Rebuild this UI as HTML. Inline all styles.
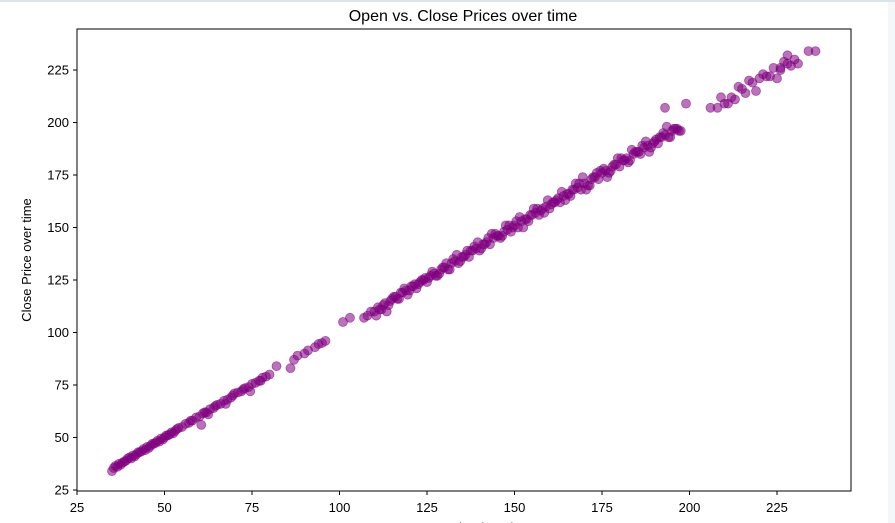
<!DOCTYPE html>
<html><head><meta charset="utf-8"><style>
html,body{margin:0;padding:0;background:#fff;width:895px;height:523px;overflow:hidden;font-family:"Liberation Sans","DejaVu Sans",sans-serif;}
</style></head><body>
<svg id="chart" width="895" height="523" viewBox="0 0 895 523" xmlns="http://www.w3.org/2000/svg" font-family="Liberation Sans, DejaVu Sans, sans-serif">
<rect x="0" y="0" width="895" height="523" fill="#fff"/>
<rect x="0" y="0" width="895" height="2" fill="#dde3ea"/>
<rect x="888" y="2" width="7" height="521" fill="#f5f6f7"/>
<text x="463" y="21" text-anchor="middle" font-size="16" fill="#000">Open vs. Close Prices over time</text>
<g id="points"></g>
<rect x="77" y="29" width="774" height="462" fill="none" stroke="#000" stroke-width="1"/>
<g id="xticks"></g>
<g id="yticks"></g>
<text x="463" y="532" text-anchor="middle" font-size="13">Open Price (USD)</text>
<text transform="translate(31,260) rotate(-90)" text-anchor="middle" font-size="13">Close Price over time</text>
</svg>
<script>
const xTicks=[25,50,75,100,125,150,175,200,225];
const yTicks=[25,50,75,100,125,150,175,200,225];
const opens=[
35,35.5,36,36.5,37,37.5,38,38.5,39,39.5,
40,40.5,41,41.5,42,42.5,43,43.5,44,44.5,
45,45.5,46,46.5,47,47.5,48,48.5,49,49.5,
50,50.5,51,51.5,52,52.5,53,53.5,54,55,
56,57,58,59,60,61,62,63,64,65,
66,67,68,69,70,71,72,73,74,75,
76,77,78,79,80,82,86,87,88,90,
91,93,94,95,96,101,103,107,108,109,
60.5,61.5,62.5,64.5,67.5,69.5,72.5,74.5,77.5,57.5,
110,111,112,113,114,115,116,117,118,119,
120,121,122,123,124,125,126,127,128,129,
130,131,132,133,134,135,136,137,138,139,
140,141,142,143,144,145,146,147,148,149,
150,151,152,153,154,155,156,157,158,159,
160,161,162,163,164,165,166,167,168,169,
170,171,172,173,174,175,176,177,178,179,
180,181,182,183,184,185,186,187,188,189,
190,191,192,193,194,195,196,197,
110.5,112.5,114.5,116.5,118.5,120.5,122.5,124.5,126.5,128.5,
130.5,132.5,134.5,136.5,138.5,140.5,142.5,144.5,146.5,148.5,
150.5,152.5,154.5,156.5,158.5,160.5,162.5,164.5,166.5,168.5,
170.5,172.5,174.5,176.5,178.5,180.5,182.5,184.5,186.5,188.5,
190.5,192.5,194.5,196.5,
111.5,113.5,115.5,117.5,119.5,121.5,123.5,125.5,127.5,129.5,
131.5,133.5,135.5,137.5,139.5,141.5,143.5,145.5,147.5,149.5,
151.5,153.5,155.5,157.5,159.5,161.5,163.5,165.5,167.5,169.5,
171.5,173.5,175.5,177.5,179.5,181.5,183.5,185.5,187.5,189.5,
191.5,193.5,195.5,197.5,
206,208,210,212,213,215,216,218,220,222,
224,226,228,230,234,236,209,214,219,223,
225,227,229,231,211,217,221,226,228,193,
199];
const closes=[
34,35.5,36.5,36,37.5,37,38,38.5,39,40,
40.5,40,41.5,41,42,43,43,43.5,44.5,44,
45.5,45,46,47,47,47.5,48.5,48,49.5,49,
50,51,51,51.5,52.5,52,53,54,54.5,55,
56.5,57,58,59.5,60,61.5,62,63.5,64,65.5,
66,67.5,68,69,71,71.5,72,73.5,74,75.5,
76,77,78.5,79,80,84,83,87,89,90,
91.5,93,94.5,95,96,105,107,107,108,110,
56,62,61,65,66,70,73,72,77,58,
110,112,111,114,113,116,117,116,119,120,
120,122,121,124,125,124,127,128,127,130,
131,130,133,134,133,136,137,136,139,140,
139,142,143,142,145,146,145,148,149,148,
151,150,153,154,153,156,157,156,159,160,
159,162,163,162,165,166,165,168,169,168,
171,170,173,174,173,176,177,176,179,180,
179,182,183,182,185,186,185,188,189,188,
191,190,193,194,193,196,197,196,
108,113,115,116,121,122,123,126,129,128,
133,135,134,139,141,140,145,147,146,151,
153,150,156,159,157,161,164,163,168,171,
168,174,177,174,180,183,181,186,189,186,
192,195,193,197,
111,110,117,119,118,123,125,126,127,131,
130,137,136,139,143,142,147,146,151,150,
155,154,159,158,163,162,167,166,171,174,
170,176,178,177,183,182,187,186,191,190,
193,198,197,196,
207,207,209,212,211,216,214,219,221,222,
226,225,228,230,234,234,212,217,215,222,
221,229,227,228,209,220,223,226,232,207,
209];
const X0=77,Y0=490,XMIN=25,YMIN=25,PX=3.5,PY=2.1;
function sx(v){return X0+(v-XMIN)*PX;}
function sy(v){return Y0-(v-YMIN)*PY;}
const NS="http://www.w3.org/2000/svg";
const pg=document.getElementById('points');
const n=Math.min(opens.length,closes.length);
for(let i=0;i<n;i++){
  const c=document.createElementNS(NS,'circle');
  c.setAttribute('cx',sx(opens[i]));c.setAttribute('cy',sy(closes[i]));c.setAttribute('r',4.5);
  c.setAttribute('fill','rgba(128,0,128,0.55)');c.setAttribute('stroke','rgba(128,0,128,0.55)');c.setAttribute('stroke-width','0.8');
  
  
  pg.appendChild(c);
}
const xg=document.getElementById('xticks');
xTicks.forEach(t=>{
  const x=sx(t);
  const l=document.createElementNS(NS,'line');
  l.setAttribute('x1',x);l.setAttribute('x2',x);l.setAttribute('y1',491);l.setAttribute('y2',495);l.setAttribute('stroke','#000');
  
  
  xg.appendChild(l);
  const tx=document.createElementNS(NS,'text');
  tx.setAttribute('x',x);tx.setAttribute('y',512);tx.setAttribute('text-anchor','middle');tx.setAttribute('font-size','13');
  tx.textContent=t;
  
  
  xg.appendChild(tx);
});
const yg=document.getElementById('yticks');
yTicks.forEach(t=>{
  const y=sy(t);
  const l=document.createElementNS(NS,'line');
  l.setAttribute('x1',73);l.setAttribute('x2',77);l.setAttribute('y1',y);l.setAttribute('y2',y);l.setAttribute('stroke','#000');
  
  
  yg.appendChild(l);
  const tx=document.createElementNS(NS,'text');
  tx.setAttribute('x',69);tx.setAttribute('y',y+4.5);tx.setAttribute('text-anchor','end');tx.setAttribute('font-size','13');
  tx.textContent=t;
  
  
  yg.appendChild(tx);
});
</script>
</body></html>
